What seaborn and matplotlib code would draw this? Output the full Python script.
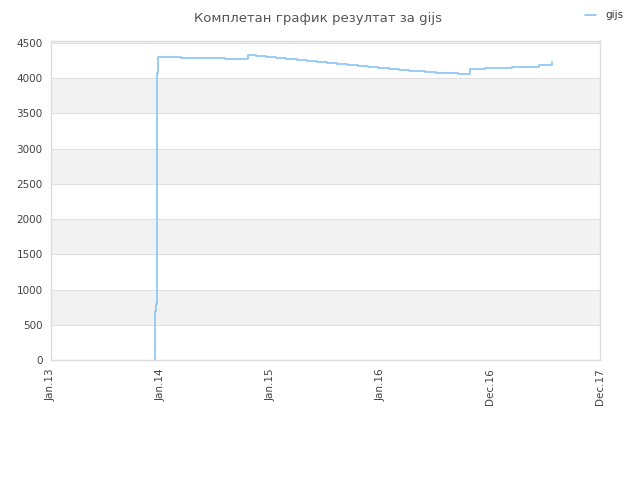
import numpy as np
import pandas as pd
import seaborn as sns
import matplotlib.pyplot as plt

# x positions are in units of the (equally spaced) tick labels
tick_labels = ["Jan.13", "Jan.14", "Jan.15", "Jan.16", "Dec.16", "Dec.17"]
pos = [0.943, 0.947, 0.954, 0.961, 0.970, 1.184, 1.585, 1.797, 1.867, 1.958,
       2.049, 2.140, 2.243, 2.334, 2.425, 2.516, 2.607, 2.699, 2.799, 2.890,
       2.981, 3.078, 3.169, 3.260, 3.352, 3.406, 3.506, 3.709, 3.816, 3.953,
       4.199, 4.444, 4.563, 4.564]
score = [0, 700, 800, 4080, 4306, 4290, 4273, 4330, 4316, 4306,
         4292, 4278, 4263, 4249, 4235, 4221, 4207, 4193, 4178, 4164,
         4150, 4136, 4122, 4108, 4098, 4089, 4079, 4060, 4131, 4150,
         4165, 4184, 4184, 4226]

df = pd.DataFrame({"pos": pos, "score": score, "name": "gijs"})

sns.set_style("white")
plt.rcParams["font.family"] = ["DejaVu Sans"]

fig = plt.figure(figsize=(6.4, 4.8), dpi=100)
ax = fig.add_axes([51 / 640, 1 - 360 / 480, 549 / 640, 319 / 480])

# alternating horizontal bands
for lo in [500, 1500, 2500, 3500]:
    ax.axhspan(lo, lo + 500, color="#f2f2f2", zorder=0, lw=0)
ax.axhspan(4500, 4530, color="#f2f2f2", zorder=0, lw=0)
for y in range(0, 4501, 500):
    ax.axhline(y, color="#e0e0e0", lw=0.8, zorder=0.5)

sns.lineplot(data=df, x="pos", y="score", hue="name", palette=["#92c8f7"],
             drawstyle="steps-post", lw=1.3, ax=ax, legend=False)

ax.set_xlim(0, 5)
ax.set_ylim(0, 4528)
ax.set_xticks(range(len(tick_labels)))
ax.set_xticklabels(tick_labels, rotation=90)
ax.set_yticks(range(0, 4501, 500))
ax.tick_params(length=0, labelsize=7.5, colors="#444444", pad=6)
ax.set_xlabel("")
ax.set_ylabel("")
for s in ax.spines.values():
    s.set_color("#dddddd")
    s.set_linewidth(1)

fig.text(0.497, 0.975, "Комплетан график резултат за gijs", ha="center",
         va="top", fontsize=9.5, color="#555555")
fig.lines.append(plt.Line2D([585 / 640, 596 / 640], [1 - 15 / 480, 1 - 15 / 480],
                            transform=fig.transFigure, color="#92c8f7", lw=1.3))
fig.text(605 / 640, 1 - 15 / 480, "gijs", ha="left", va="center",
         fontsize=7.5, color="#333333")

fig.savefig("out.png", dpi=100)
